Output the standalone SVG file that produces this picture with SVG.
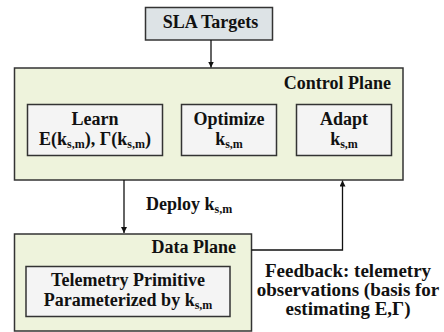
<svg xmlns="http://www.w3.org/2000/svg" width="444" height="332" viewBox="0 0 444 332">
  <style>
    text { font-family: "Liberation Serif", "DejaVu Serif", serif; font-weight: 700; fill: #111; }
    .t { font-size: 18px; }
    .note { font-size: 19px; }
    .sub { font-size: 12px; }
    .box { stroke: #333; stroke-width: 1.5; }
    .plane { fill: #eef3dc; }
    .inner { fill: #f4f4f4; }
    .sla { fill: #dde3e6; }
    .wire { fill: none; stroke: #111; stroke-width: 1.3; }
  </style>
  <defs>
    <marker id="arrow" viewBox="0 0 10 10" refX="10" refY="5" markerWidth="6" markerHeight="6" markerUnits="userSpaceOnUse" orient="auto">
      <path d="M0,0 L10,5 L0,10 z" fill="#111"/>
    </marker>
  </defs>
  <rect width="444" height="332" fill="#fff"/>

  <g id="sla-targets">
    <rect class="box sla" x="145.5" y="7.5" width="127" height="32.5"/>
    <text class="t" x="210.5" y="28" text-anchor="middle">SLA Targets</text>
  </g>

  <g id="control-plane">
    <rect class="box plane" x="14.5" y="68" width="388.5" height="112"/>
    <text class="t" x="391" y="89" text-anchor="end">Control Plane</text>
  </g>

  <g id="learn">
    <rect class="box inner" x="27.5" y="104.5" width="135" height="51"/>
    <text class="t" x="95" y="125" text-anchor="middle">Learn</text>
    <text class="t" x="95" y="144.5" text-anchor="middle">E(k<tspan class="sub" dy="3">s,m</tspan><tspan dy="-3">), Γ(k</tspan><tspan class="sub" dy="3">s,m</tspan><tspan dy="-3">)</tspan></text>
  </g>

  <g id="optimize">
    <rect class="box inner" x="181.5" y="104.5" width="95" height="51"/>
    <text class="t" x="229" y="125" text-anchor="middle">Optimize</text>
    <text class="t" x="229" y="144.5" text-anchor="middle">k<tspan class="sub" dy="3">s,m</tspan></text>
  </g>

  <g id="adapt">
    <rect class="box inner" x="296.5" y="104.5" width="95" height="51"/>
    <text class="t" x="344" y="125" text-anchor="middle">Adapt</text>
    <text class="t" x="344" y="144.5" text-anchor="middle">k<tspan class="sub" dy="3">s,m</tspan></text>
  </g>

  <g id="data-plane">
    <rect class="box plane" x="14.5" y="234" width="237" height="97"/>
    <text class="t" x="236" y="253" text-anchor="end">Data Plane</text>
  </g>

  <g id="telemetry-primitive">
    <rect class="box inner" x="26" y="266.5" width="204" height="50"/>
    <text class="t" x="128" y="286" text-anchor="middle">Telemetry Primitive</text>
    <text class="t" x="128" y="306" text-anchor="middle">Parameterized by k<tspan class="sub" dy="3">s,m</tspan></text>
  </g>

  <g id="connectors">
    <path class="wire" d="M211,40 V67.5" marker-end="url(#arrow)"/>
    <path class="wire" d="M124,180 V233" marker-end="url(#arrow)"/>
    <text class="t" x="146" y="209.5">Deploy k<tspan class="sub" dy="3">s,m</tspan></text>
    <path class="wire" d="M251.5,250 H342.5 V180.5" marker-end="url(#arrow)"/>
    <text class="note" x="348" y="277" text-anchor="middle">Feedback: telemetry</text>
    <text class="note" x="348" y="296" text-anchor="middle">observations (basis for</text>
    <text class="note" x="348" y="315" text-anchor="middle">estimating E,Γ)</text>
  </g>
</svg>
